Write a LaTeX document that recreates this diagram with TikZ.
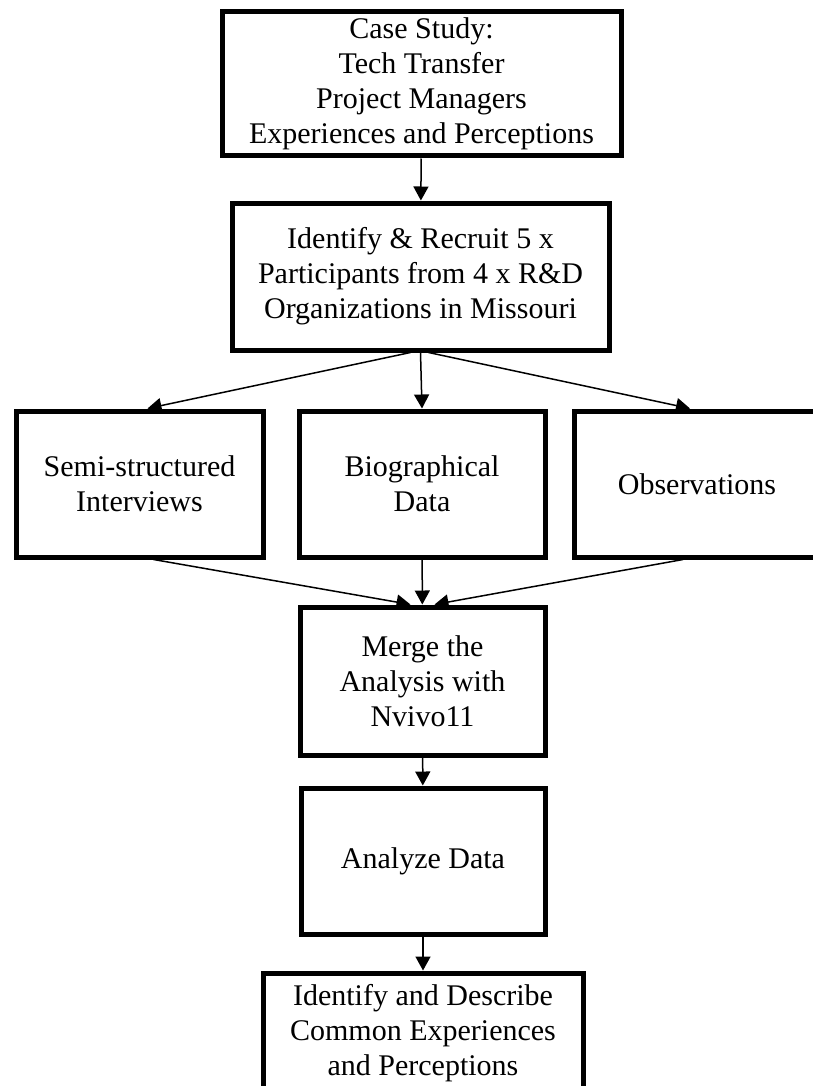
\documentclass[tikz,border=0pt]{standalone}
\usepackage{fontspec}
\setmainfont{Liberation Serif}
\usetikzlibrary{arrows.meta}
\begin{document}
\begin{tikzpicture}[x=1pt,y=-1pt,
	box/.style={draw,line width=5pt,align=center,inner sep=0pt,
		font=\fontsize{30}{35}\selectfont},
	arr/.style={line width=1.5pt,-{Triangle[length=14pt,width=15pt]}}]
	    \useasboundingbox (0,0) rectangle (812,1086);
	    \node[box,minimum width=399pt,minimum height=144pt] (case) at (421.5,84)
	        {Case Study:\\Tech Transfer\\Project Managers\\Experiences and Perceptions};
	    \node[box,minimum width=377pt,minimum height=147pt] (recruit) at (420.5,276.5)
	        {Identify \& Recruit 5 x\\Participants from 4 x R\&D\\Organizations in Missouri};
	    \node[box,minimum width=247pt,minimum height=146pt] (interviews) at (139.5,484)
	        {Semi-structured\\Interviews};
	    \node[box,minimum width=246pt,minimum height=146pt] (bio) at (422,484)
	        {Biographical\\Data};
	    \node[box,minimum width=246pt,minimum height=146pt] (obs) at (697,484)
	        {Observations};
	    \node[box,minimum width=245pt,minimum height=148pt] (merge) at (422.5,681)
	        {Merge the\\Analysis with\\Nvivo11};
	    \node[box,minimum width=244pt,minimum height=146pt] (analyze) at (423,861)
	        {Analyze Data};
	    \node[box,minimum width=320pt,minimum height=120pt] (describe) at (423,1033)
	        {Identify and Describe\\Common Experiences\\and Perceptions};
	    
	    \draw[arr] (case) -- (recruit);
	    \draw[arr] ([xshift=-10pt]recruit.south) -- ([xshift=8pt]interviews.north);
	    \draw[arr] (recruit.south) -- (bio.north);
	    \draw[arr] ([xshift=8pt]recruit.south) -- ([xshift=-7pt]obs.north);
	    
	    \draw[arr] ([xshift=14pt]interviews.south) -- ([xshift=-12pt]merge.north);
	    \draw[arr] (bio) -- (merge);
	    \draw[arr] ([xshift=-14pt]obs.south) -- ([xshift=12pt]merge.north);
	    \draw[arr] (merge) -- (analyze);
	    \draw[arr] (analyze) -- (describe);
	\end{tikzpicture}
\end{document}
